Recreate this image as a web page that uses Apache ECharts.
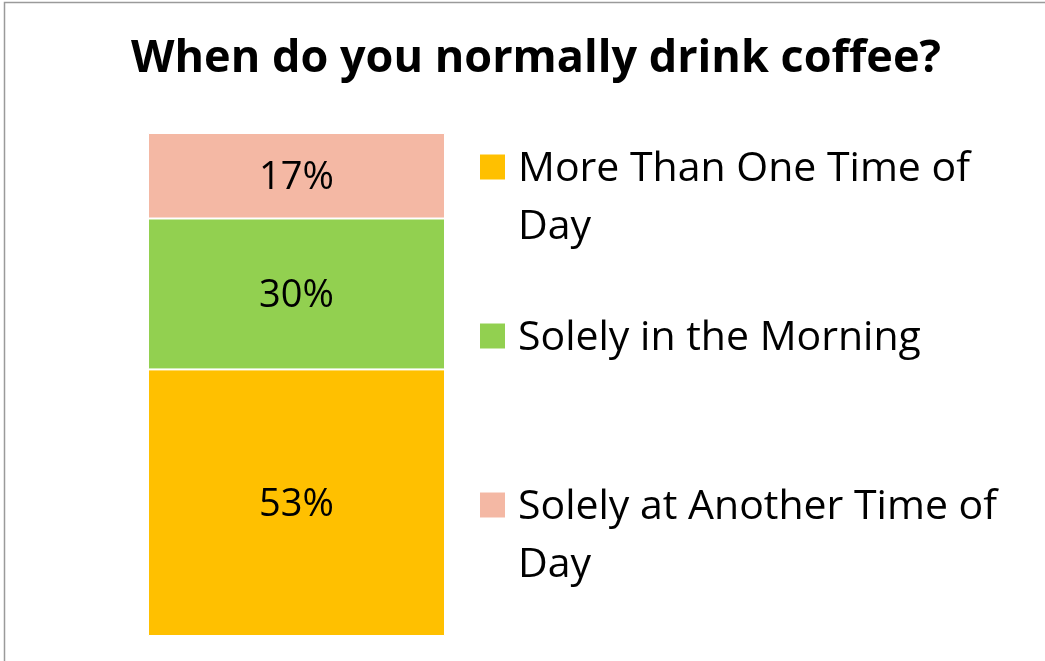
<!DOCTYPE html>
<html>
<head>
<meta charset="utf-8">
<script src="https://cdn.jsdelivr.net/npm/echarts@6/dist/echarts.min.js"></script>
<style>
  html, body { margin: 0; padding: 0; background: #fff; }
  #chart { width: 1045px; height: 661px; }
</style>
</head>
<body>
<div id="chart"></div>
<script>
// Survey answers, stacked in one column (percent of respondents)
const categories = ['Responses'];
const seriesNames = ['More Than One Time of Day', 'Solely in the Morning', 'Solely at Another Time of Day'];
const legendLines = [['More Than One Time of', 'Day'], ['Solely in the Morning'], ['Solely at Another Time of', 'Day']];
const moreThanOnce = [53];
const morningOnly = [30];
const otherTimeOnly = [17];
const colors = ['#FFC000', '#92D050', '#F4B8A4'];

const values = [moreThanOnce, morningOnly, otherTimeOnly];
const font = '"Open Sans", "Noto Sans", sans-serif';

const chart = echarts.init(document.getElementById('chart'));

const series = seriesNames.map((name, i) => ({
  name,
  type: 'bar',
  stack: 'total',
  barWidth: '100%',
  data: values[i],
  itemStyle: { color: colors[i], borderColor: '#fff', borderWidth: 1 },
  label: {
    show: true,
    position: 'inside',
    offset: [0, 2],
    formatter: p => p.value + '%',
    color: '#000',
    fontFamily: font,
    fontSize: 38
  }
}));

// Legend drawn as a column of swatches with wrapped names
const legendCenters = [167, 336, 505];
const legendGraphics = [];
seriesNames.forEach((name, i) => {
  const cy = legendCenters[i];
  legendGraphics.push({
    type: 'rect',
    shape: { x: 480, y: cy - 12.5, width: 25, height: 25 },
    style: { fill: colors[i] }
  });
  legendLines[i].forEach((line, j) => {
    legendGraphics.push({
      type: 'text',
      x: 518,
      y: cy + 2 + j * 58,
      style: {
        text: line,
        fill: '#000',
        fontFamily: font,
        fontSize: 41,
        verticalAlign: 'middle',
        align: 'left'
      }
    });
  });
});

chart.setOption({
  animation: false,
  backgroundColor: '#fff',
  title: {
    text: 'When do you normally drink coffee?',
    left: 531,
    textAlign: 'center',
    top: 32,
    textStyle: { fontFamily: font, fontWeight: 'bold', fontSize: 45, color: '#000' }
  },
  grid: { left: 148, top: 133, width: 297, height: 503 },
  xAxis: {
    type: 'category',
    data: categories,
    show: false
  },
  yAxis: {
    type: 'value',
    min: 0,
    max: 100,
    show: false
  },
  legend: { show: false },
  series,
  graphic: [
    {
      type: 'rect',
      shape: { x: 4.5, y: 2.5, width: 1200, height: 800 },
      style: { fill: 'none', stroke: '#9a9a9a', lineWidth: 1.5 },
      silent: true
    },
    ...legendGraphics
  ]
});
</script>
</body>
</html>
